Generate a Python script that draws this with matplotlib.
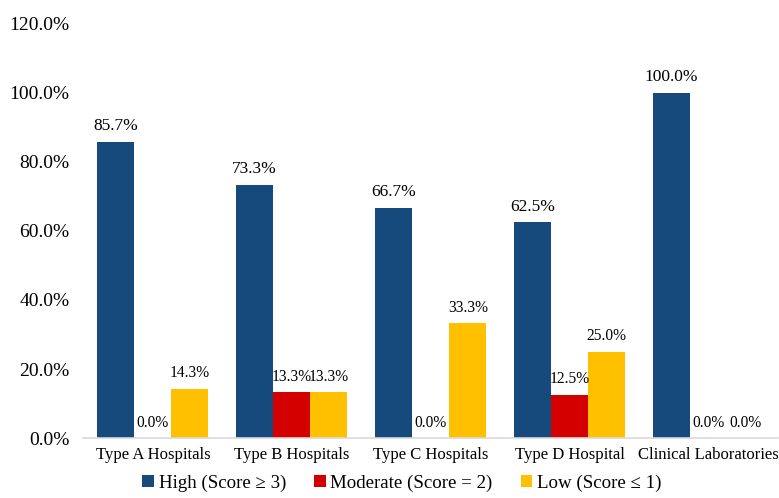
import matplotlib.pyplot as plt
import numpy as np

plt.rcParams['font.family'] = ['Liberation Serif', 'DejaVu Serif']

# data
categories = ['Type A Hospitals', 'Type B Hospitals', 'Type C Hospitals',
              'Type D Hospital', 'Clinical Laboratories']
series_labels = ['High (Score \u2265 3)', 'Moderate (Score = 2)', 'Low (Score \u2264 1)']
high = [85.7, 73.3, 66.7, 62.5, 100.0]
moderate = [0.0, 13.3, 0.0, 12.5, 0.0]
low = [14.3, 13.3, 33.3, 25.0, 0.0]

colors = ['#174A7C', '#D40000', '#FFC000']
label_sizes = [12.5, 11.2, 11.2]

fig = plt.figure(figsize=(7.79, 4.98), dpi=100)
ax = fig.add_axes([0.107, 0.12, 0.892, 0.833])

x = np.arange(len(categories))
width = 0.267
for i, vals in enumerate([high, moderate, low]):
    bars = ax.bar(x + (i - 1) * width, vals, width, color=colors[i], label=series_labels[i])
    for b, v in zip(bars, vals):
        ax.text(b.get_x() + b.get_width() / 2, v + 2.2, f'{v:.1f}%',
                ha='center', va='bottom', fontsize=label_sizes[i])

ax.set_xlim(-0.5, len(categories) - 0.5)
ax.set_ylim(0, 120)
ax.set_yticks(np.arange(0, 121, 20))
ax.set_yticklabels([f'{t:.1f}%' for t in np.arange(0, 121, 20)], fontsize=14)
ax.set_xticks(x)
ax.set_xticklabels(categories, fontsize=12)
ax.tick_params(axis='both', length=0)
ax.tick_params(axis='y', pad=10)
ax.tick_params(axis='x', pad=6)

for s in ['top', 'right', 'left']:
    ax.spines[s].set_visible(False)
ax.spines['bottom'].set_color('#D9D9D9')
ax.spines['bottom'].set_linewidth(1.2)

handles, labels = ax.get_legend_handles_labels()
fig.legend(handles, labels, loc='center', bbox_to_anchor=(0.516, 0.030), ncol=3,
           frameon=False, fontsize=13.6, handlelength=0.6, handleheight=0.6,
           handletextpad=0.25, columnspacing=1.5)

plt.savefig('out.png')
